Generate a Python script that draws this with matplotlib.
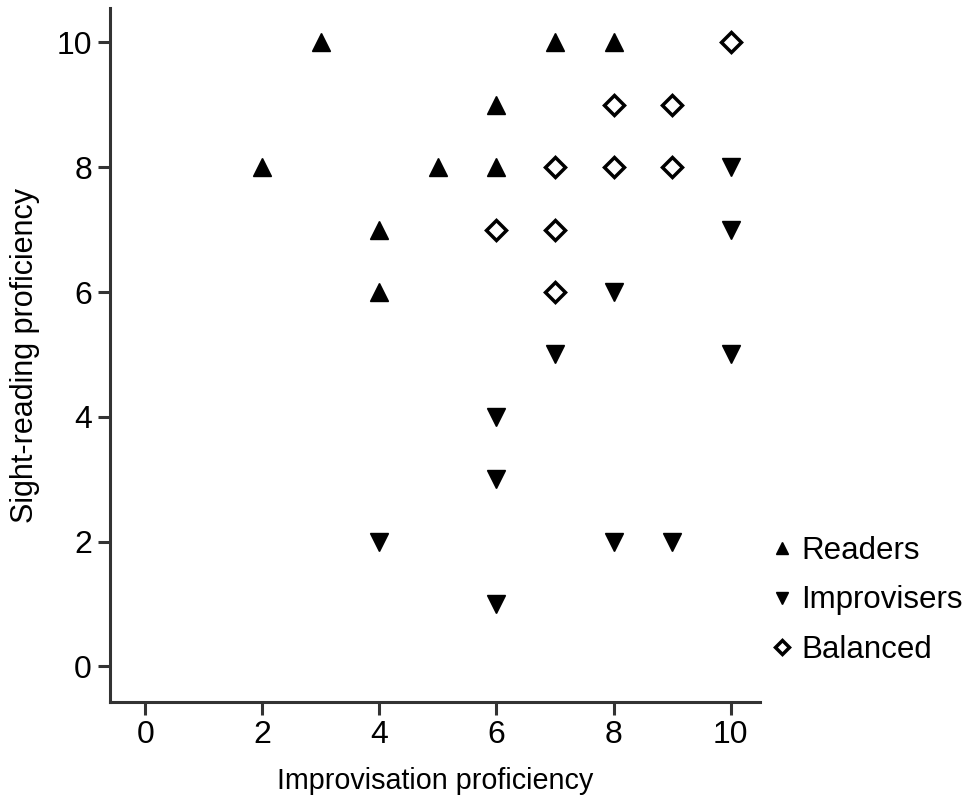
import matplotlib.pyplot as plt

plt.rcParams['font.family'] = ['Liberation Sans', 'DejaVu Sans']

# readers: sight-reading stronger than improvisation
readers_x = [3, 7, 8, 6, 2, 5, 6, 4, 4]
readers_y = [10, 10, 10, 9, 8, 8, 8, 7, 6]

# improvisers
improvisers_x = [10, 10, 8, 7, 10, 6, 6, 4, 8, 9, 6]
improvisers_y = [8, 7, 6, 5, 5, 4, 3, 2, 2, 2, 1]

# balanced
balanced_x = [10, 8, 9, 7, 8, 9, 6, 7, 7]
balanced_y = [10, 9, 9, 8, 8, 8, 7, 7, 6]

ticks = [0, 2, 4, 6, 8, 10]

fig = plt.figure(figsize=(9.7, 8.06), dpi=100)
ax = fig.add_axes([0.1134, 0.129, 0.67, 0.861])

ax.plot(readers_x, readers_y, linestyle='none', marker='^', markersize=13,
        color='black', label='Readers')
ax.plot(improvisers_x, improvisers_y, linestyle='none', marker='v', markersize=13,
        color='black', label='Improvisers')
ax.plot(balanced_x, balanced_y, linestyle='none', marker='D', markersize=10,
        markerfacecolor='white', markeredgecolor='black', markeredgewidth=2.5,
        label='Balanced')

ax.set_xlim(-0.6, 10.5)
ax.set_ylim(-0.57, 10.55)
ax.set_xticks(ticks)
ax.set_yticks(ticks)

for side in ['top', 'right']:
    ax.spines[side].set_visible(False)
for side in ['left', 'bottom']:
    ax.spines[side].set_linewidth(2.2)
    ax.spines[side].set_color('#333333')

ax.tick_params(axis='both', direction='out', length=9, width=2.2, color='#333333',
               labelsize=23, pad=4)
ax.set_xlabel('Improvisation proficiency', fontsize=20.7, labelpad=12)
ax.set_ylabel('Sight-reading proficiency', fontsize=22, labelpad=12)

fig.legend(loc='center left', bbox_to_anchor=(0.797, 0.255), frameon=False,
           fontsize=22.5, markerscale=0.7, handlelength=0.6, handletextpad=0.3,
           labelspacing=0.62, borderpad=0, borderaxespad=0)

fig.savefig('out.png', dpi=100)
